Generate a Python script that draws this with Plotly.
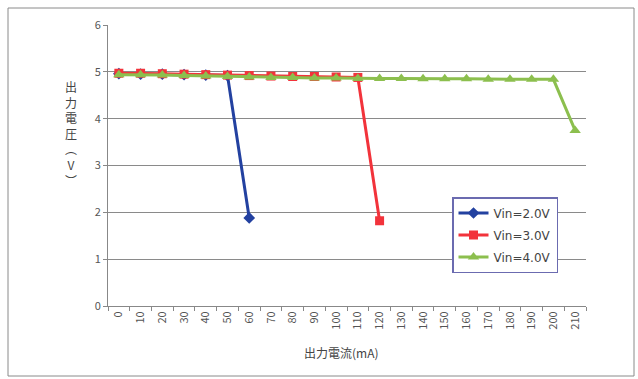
import plotly.graph_objects as go

# Output current categories (mA)
currents = [str(v) for v in range(0, 220, 10)]

# Output voltage (V) for each input voltage
vin_2v = [4.96, 4.95, 4.95, 4.94, 4.93, 4.92, 1.88]
vin_3v = [4.97, 4.97, 4.96, 4.95, 4.94, 4.93, 4.92, 4.91, 4.90, 4.90, 4.89, 4.88, 1.82]
vin_4v = [4.94, 4.94, 4.93, 4.92, 4.91, 4.90, 4.89, 4.88, 4.88, 4.87, 4.87,
          4.86, 4.86, 4.86, 4.85, 4.85, 4.85, 4.84, 4.84, 4.84, 4.84, 3.75]

series_names = ["Vin=2.0V", "Vin=3.0V", "Vin=4.0V"]

W, H = 638, 379
L, R, T, B = 108, 52, 25, 73
pw, ph = W - L - R, H - T - B

def px(x):
    return (x - L) / pw

def py(y):
    return (H - B - y) / ph

font_jp = "Noto Sans CJK JP, Noto Sans, sans-serif"

fig = go.Figure()
fig.add_trace(go.Scatter(
    x=currents[:len(vin_2v)], y=vin_2v, name=series_names[0], mode="lines+markers",
    legendgroup="a",
    line=dict(color="#2341a0", width=3),
    marker=dict(symbol="diamond", size=9, color="#2341a0"),
))
fig.add_trace(go.Scatter(
    x=currents[:len(vin_3v)], y=vin_3v, name=series_names[1], mode="lines+markers",
    legendgroup="b",
    line=dict(color="#f2333b", width=3),
    marker=dict(symbol="square", size=9, color="#f2333b"),
))
fig.add_trace(go.Scatter(
    x=currents[:len(vin_4v)], y=vin_4v, name=series_names[2], mode="lines+markers",
    legendgroup="c",
    line=dict(color="#8cbf4e", width=3),
    marker=dict(symbol="triangle-up", size=10, color="#8cbf4e"),
))

fig.update_layout(
    width=W, height=H,
    margin=dict(l=L, r=R, t=T, b=B),
    paper_bgcolor="white", plot_bgcolor="white",
    font=dict(family=font_jp, size=11, color="#555"),
    xaxis=dict(
        type="category", categoryorder="array", categoryarray=currents,
        range=[-0.5, len(currents) - 0.5],
        tickangle=-90, tickson="boundaries", ticks="outside", ticklen=4,
        tickcolor="#888", showline=True, linecolor="#888", linewidth=1,
        showgrid=False, tickfont=dict(size=11, color="#555"),
    ),
    yaxis=dict(
        range=[0, 6], dtick=1, ticks="outside", ticklen=4, tickcolor="#888",
        showline=True, linecolor="#888", linewidth=1,
        showgrid=True, gridcolor="#8a8a8a", gridwidth=1, zeroline=False,
        tickfont=dict(size=11, color="#555"),
    ),
    legend=dict(
        x=px(452), y=py(197), xanchor="left", yanchor="top",
        bgcolor="white", bordercolor="#6b6bb0", borderwidth=1.5,
        font=dict(size=12, color="#444", family="DejaVu Sans, sans-serif"),
        tracegroupgap=3, itemwidth=30,
    ),
    showlegend=True,
)

# Axis titles
fig.add_annotation(
    text="出力電流(mA)", x=px(341), y=py(363), xref="paper", yref="paper",
    showarrow=False, font=dict(size=12, color="#444", family=font_jp),
)
fig.add_annotation(
    text="出<br>力<br>電<br>圧<br>︵<br>V<br>︶", x=px(63), y=py(133),
    xref="paper", yref="paper", showarrow=False,
    font=dict(size=12, color="#444", family=font_jp), align="center",
)

# Chart-area frame
fig.add_shape(
    type="rect", xref="paper", yref="paper",
    x0=px(8), x1=px(634), y0=py(376), y1=py(8),
    line=dict(color="#8a8a8a", width=1), layer="below",
)

fig.write_html("out.html")
